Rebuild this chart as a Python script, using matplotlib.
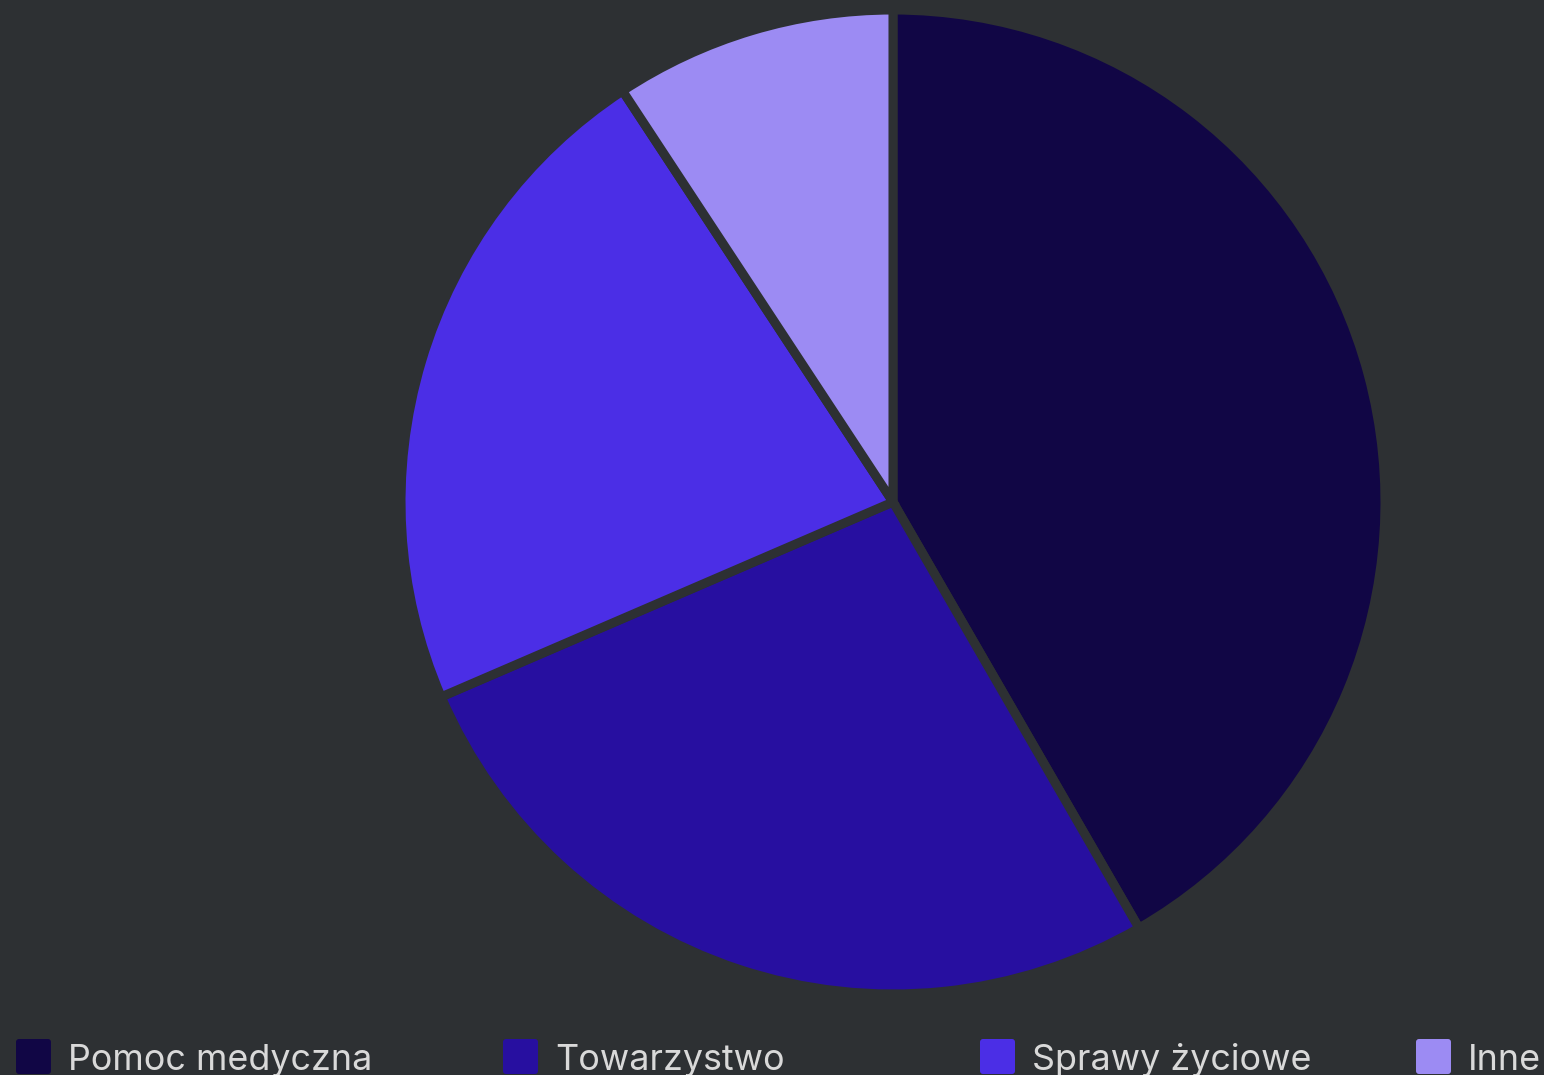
import matplotlib
matplotlib.use("Agg")
import matplotlib.pyplot as plt
from matplotlib.patches import FancyBboxPatch

categories = ["Pomoc medyczna", "Towarzystwo", "Sprawy życiowe", "Inne"]
values = [45, 29, 24, 10]
colors = ["#110645", "#270FA0", "#4B2EE6", "#9C8BF3"]
bg = "#2D3033"
text_color = "#D9D9D9"

W, H = 1544, 1075
fig = plt.figure(figsize=(W / 100, H / 100), dpi=100, facecolor=bg)
ax = fig.add_axes([0, 0, 1, 1])
ax.set_facecolor(bg)

ax.pie(values, colors=colors, startangle=90, counterclock=False,
       center=(893, H - 502), radius=492, frame=True,
       wedgeprops=dict(edgecolor=bg, linewidth=6.5))
ax.set_xlim(0, W)
ax.set_ylim(0, H)
ax.set_aspect("equal")
ax.axis("off")

legend_x = [16, 503, 980, 1416]
sq = 35
for x, lab, c in zip(legend_x, categories, colors):
    ax.add_patch(FancyBboxPatch((x + 3, H - 1039 - sq + 3), sq - 6, sq - 6,
                                boxstyle="round,pad=3", facecolor=c,
                                edgecolor="none"))
    ax.text(x + 52, H - 1070, lab, fontsize=25.8, family=["Inter", "DejaVu Sans"],
            color=text_color, ha="left", va="baseline")

fig.savefig("out.png", dpi=100, facecolor=bg)
